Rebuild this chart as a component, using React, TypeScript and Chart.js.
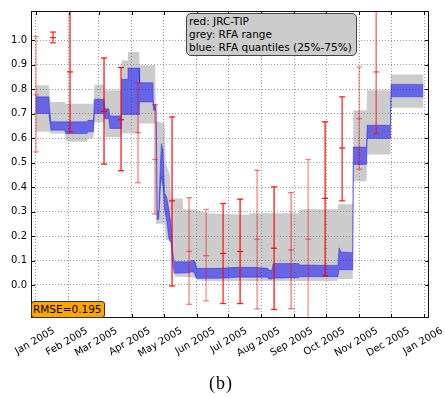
import React, { useEffect, useRef } from 'react';
import { Chart, registerables } from 'chart.js';

Chart.register(...registerables);

// x values are days since 1 Jan 2005
const monthTickDays = [0, 31, 59, 90, 120, 151, 181, 212, 243, 273, 304, 334, 365];
const monthTickLabels = [
  'Jan 2005', 'Feb 2005', 'Mar 2005', 'Apr 2005', 'May 2005', 'Jun 2005', 'Jul 2005',
  'Aug 2005', 'Sep 2005', 'Oct 2005', 'Nov 2005', 'Dec 2005', 'Jan 2006',
];
const yTickValues = [0, 0.1, 0.2, 0.3, 0.4, 0.5, 0.6, 0.7, 0.8, 0.9, 1.0];

// RFA range (grey band)
const rangeDays = [-0.5, 12, 13.5, 27, 28, 32, 48, 49, 54, 55, 64, 65, 80, 80.5, 86, 86.5, 97, 97.5, 112, 113, 121, 122, 126, 127, 129, 130.5, 138, 138.5, 151, 151.5, 161, 200, 201, 247, 248, 283.5, 284, 298, 298.5, 311, 311.5, 333.5, 334, 364.5];
const rangeMax = [0.816, 0.816, 0.748, 0.748, 0.741, 0.741, 0.741, 0.741, 0.741, 0.819, 0.819, 0.796, 0.796, 0.918, 0.918, 0.952, 0.952, 0.898, 0.898, 0.67, 0.66, 0.5, 0.45, 0.354, 0.354, 0.354, 0.354, 0.309, 0.309, 0.305, 0.293, 0.286, 0.293, 0.293, 0.31, 0.31, 0.33, 0.33, 0.714, 0.714, 0.796, 0.796, 0.86, 0.86];
const rangeMin = [0.626, 0.626, 0.619, 0.619, 0.592, 0.585, 0.585, 0.6, 0.6, 0.665, 0.665, 0.605, 0.605, 0.619, 0.619, 0.619, 0.619, 0.66, 0.66, 0.25, 0.25, 0.184, 0.18, 0.18, 0.12, 0.034, 0.034, 0.034, 0.03, 0.018, 0.016, 0.016, 0.016, 0.016, 0.016, 0.016, 0.024, 0.024, 0.424, 0.424, 0.533, 0.533, 0.724, 0.724];

// RFA quantiles 25%-75% (blue band)
const quantDays = [-0.5, 12, 14, 27, 28, 48, 49, 54, 55, 64, 65, 68.5, 69.5, 80, 80.5, 86, 86.5, 97, 97.5, 110, 110.5, 113, 114, 115.5, 117, 118, 119.5, 121, 123, 125, 127, 128.5, 130, 145, 146, 149, 150, 151, 172, 190, 205, 218, 219, 222, 223, 247, 248, 284, 285, 287, 298, 298.5, 311, 311.5, 333.5, 334, 364.5];
const quant75 = [0.769, 0.769, 0.667, 0.667, 0.667, 0.667, 0.673, 0.673, 0.759, 0.759, 0.72, 0.72, 0.691, 0.691, 0.841, 0.841, 0.887, 0.887, 0.827, 0.827, 0.737, 0.737, 0.3, 0.3, 0.5, 0.578, 0.55, 0.374, 0.36, 0.31, 0.25, 0.14, 0.095, 0.095, 0.1, 0.1, 0.09, 0.068, 0.068, 0.072, 0.072, 0.068, 0.061, 0.061, 0.088, 0.088, 0.082, 0.08, 0.152, 0.135, 0.132, 0.564, 0.564, 0.653, 0.653, 0.82, 0.82];
const quant25 = [0.701, 0.701, 0.633, 0.633, 0.619, 0.619, 0.626, 0.626, 0.701, 0.701, 0.68, 0.68, 0.64, 0.64, 0.697, 0.697, 0.697, 0.697, 0.748, 0.748, 0.714, 0.714, 0.265, 0.27, 0.4, 0.442, 0.4, 0.306, 0.26, 0.19, 0.17, 0.08, 0.048, 0.05, 0.055, 0.05, 0.035, 0.027, 0.027, 0.032, 0.032, 0.032, 0.024, 0.024, 0.028, 0.03, 0.034, 0.034, 0.062, 0.062, 0.062, 0.493, 0.493, 0.599, 0.599, 0.769, 0.769];

// JRC-TIP (red error bars)
const tipDays = [0, 16, 32, 64, 80, 96, 112, 128, 144, 160, 176, 192, 208, 224, 240, 256, 272, 288, 304, 320];
const tipMean = [0.778, 1.011, 0.871, 0.71, 0.676, 0.623, 0.513, 0.344, 0.137, 0.12, 0.129, 0.137, 0.187, 0.15, 0.143, 0.187, 0.354, 0.56, 0.68, 0.871];
const tipLow = [0.544, 0.99, 0.626, 0.494, 0.467, 0.418, 0.29, -0.004, -0.079, -0.065, -0.076, -0.076, -0.098, -0.1, -0.097, -0.139, 0.037, 0.344, 0.473, 0.619];
const tipHigh = [1.016, 1.034, 1.125, 0.928, 0.889, 0.826, 0.737, 0.687, 0.357, 0.309, 0.333, 0.351, 0.469, 0.401, 0.378, 0.513, 0.667, 0.769, 0.891, 1.125];
const tipAlpha = [0.45, 0.8, 0.9, 0.9, 0.9, 0.5, 0.5, 0.9, 0.5, 0.45, 0.85, 0.9, 0.5, 0.9, 0.55, 0.45, 0.9, 0.85, 0.45, 0.65];

const rmseText = 'RMSE=0.195';
const legendLines = ['red: JRC-TIP', 'grey: RFA range', 'blue: RFA quantiles (25%-75%)'];

const framePlugin = {
  id: 'frame',
  afterDraw(chart: any) {
    const { ctx, chartArea: a, scales } = chart;
    ctx.save();
    ctx.strokeStyle = '#111';
    ctx.lineWidth = 1;
    ctx.strokeRect(a.left + 0.5, a.top + 0.5, a.right - a.left - 1, a.bottom - a.top - 1);
    ctx.beginPath();
    scales.x.ticks.forEach((t: any) => {
      const px = Math.round(scales.x.getPixelForValue(t.value)) + 0.5;
      ctx.moveTo(px, a.bottom);
      ctx.lineTo(px, a.bottom - 4);
      ctx.moveTo(px, a.top);
      ctx.lineTo(px, a.top + 4);
    });
    scales.y.ticks.forEach((t: any) => {
      const py = Math.round(scales.y.getPixelForValue(t.value)) + 0.5;
      ctx.moveTo(a.left, py);
      ctx.lineTo(a.left + 4, py);
      ctx.moveTo(a.right, py);
      ctx.lineTo(a.right - 4, py);
    });
    ctx.stroke();
    ctx.restore();
  },
};

export default function App() {
  const ref = useRef<HTMLCanvasElement>(null);

  useEffect(() => {
    const canvas = ref.current;
    if (!canvas) return;
    const grey = 'rgba(128,128,128,0.4)';
    const blue = 'rgba(0,0,255,0.5)';
    const none = 'rgba(0,0,0,0)';

    const datasets: any[] = [
      {
        label: 'RFA min',
        data: rangeDays.map((d, i) => ({ x: d, y: rangeMin[i] })),
        borderColor: none, borderWidth: 0, pointRadius: 0, fill: false, order: 3,
      },
      {
        label: 'RFA max',
        data: rangeDays.map((d, i) => ({ x: d, y: rangeMax[i] })),
        borderColor: none, borderWidth: 0, pointRadius: 0, fill: '-1', backgroundColor: grey, order: 3,
      },
      {
        label: 'RFA 25%',
        data: quantDays.map((d, i) => ({ x: d, y: quant25[i] })),
        borderColor: 'rgba(0,0,255,0.35)', borderWidth: 1, pointRadius: 0, fill: false, order: 2,
      },
      {
        label: 'RFA 75%',
        data: quantDays.map((d, i) => ({ x: d, y: quant75[i] })),
        borderColor: 'rgba(0,0,255,0.35)', borderWidth: 1, pointRadius: 0, fill: '-1', backgroundColor: blue, order: 2,
      },
    ];
    tipDays.forEach((d, i) => {
      const c = `rgba(255,0,0,${tipAlpha[i]})`;
      datasets.push({
        label: `JRC-TIP ${i}`,
        data: [
          { x: d, y: tipLow[i] },
          { x: d, y: tipMean[i] },
          { x: d, y: tipHigh[i] },
        ],
        borderColor: c,
        borderWidth: 1.3,
        pointStyle: 'line',
        pointRadius: 3,
        pointBorderWidth: 1.3,
        pointBorderColor: c,
        pointBackgroundColor: c,
        fill: false,
        order: 1,
        clip: 0,
      });
    });

    const tickFont = { family: 'DejaVu Sans', size: 10 };
    const chart = new Chart(canvas, {
      type: 'line',
      data: { datasets },
      options: {
        animation: false,
        responsive: false,
        events: [],
        layout: { padding: { top: 11, right: 16, left: 0, bottom: 0 } },
        plugins: { legend: { display: false }, tooltip: { enabled: false } },
        elements: { line: { tension: 0 } },
        scales: {
          x: {
            type: 'linear',
            min: -4.7,
            max: 369.7,
            afterBuildTicks: (scale: any) => {
              scale.ticks = monthTickDays.map((v) => ({ value: v }));
            },
            afterFit: (scale: any) => {
              scale.height = 80;
              scale.paddingLeft = 0;
              scale.paddingRight = 0;
            },
            ticks: {
              autoSkip: false,
              minRotation: 30,
              maxRotation: 30,
              labelOffset: 18,
              padding: 7,
              color: '#000',
              font: tickFont,
              callback: (_v: any, i: number) => monthTickLabels[i],
            },
            grid: { color: 'rgba(0,0,0,0.4)', lineWidth: 1, drawTicks: false },
            border: { display: false, dash: [1, 2] },
          },
          y: {
            type: 'linear',
            min: -0.135,
            max: 1.12,
            afterBuildTicks: (scale: any) => {
              scale.ticks = yTickValues.map((v) => ({ value: v }));
            },
            afterFit: (scale: any) => {
              scale.width = 31;
            },
            ticks: {
              padding: 4,
              color: '#000',
              font: tickFont,
              callback: (v: any) => Number(v).toFixed(1),
            },
            grid: { color: 'rgba(0,0,0,0.4)', lineWidth: 1, drawTicks: false },
            border: { display: false, dash: [1, 2] },
          },
        },
      } as any,
      plugins: [framePlugin],
    });
    return () => chart.destroy();
  }, []);

  return (
    <div style={{ position: 'fixed', left: 0, top: 0, width: 445, height: 398, background: '#fff', overflow: 'hidden' }}>
      <canvas ref={ref} width={445} height={398} style={{ position: 'absolute', left: 0, top: 0, width: 445, height: 398 }} />
      <div
        style={{
          position: 'absolute', left: 186, top: 13, width: 171, height: 43, boxSizing: 'border-box',
          background: '#cccccc', border: '1.5px solid #444', borderRadius: 5,
          fontFamily: 'DejaVu Sans', fontSize: 10.5, lineHeight: '13px', padding: '1px 0 0 2px',
          color: '#000', whiteSpace: 'nowrap',
        }}
      >
        {legendLines.map((l) => (
          <div key={l}>{l}</div>
        ))}
      </div>
      <div
        style={{
          position: 'absolute', left: 31, top: 301, width: 74, height: 17, boxSizing: 'border-box',
          background: '#ffa500', border: '1px solid #333', borderRadius: 3,
          fontFamily: 'DejaVu Sans', fontSize: 10.5, lineHeight: '13px', padding: '0.5px 0 0 1px',
          color: '#000', whiteSpace: 'nowrap',
        }}
      >
        {rmseText}
      </div>
      <div
        style={{
          position: 'absolute', left: 171, top: 374, width: 100, textAlign: 'center',
          fontFamily: '"Liberation Serif", serif', fontSize: 18, lineHeight: '18px', letterSpacing: 1, color: '#000',
        }}
      >
        (b)
      </div>
    </div>
  );
}
